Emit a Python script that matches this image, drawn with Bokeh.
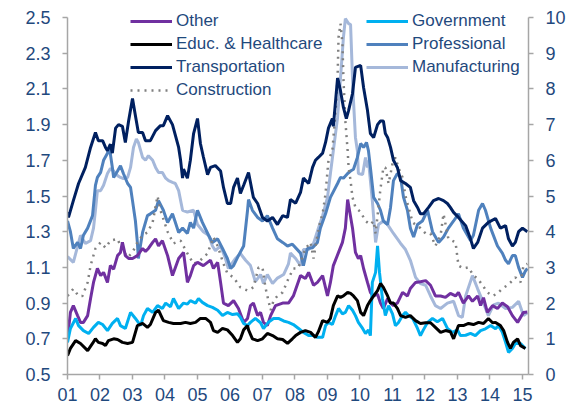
from bokeh.plotting import figure
from bokeh.models import Range1d, LinearAxis, FixedTicker, Legend, LegendItem, PrintfTickFormatter
from bokeh.embed import file_html
from bokeh.resources import INLINE

# ---------------- data (right-axis units, 0-10) ----------------
transport_t = [2001.00,2001.03,2001.18,2001.34,2001.55,2001.71,2001.86,2001.95,2002.08,2002.17,2002.23,2002.32,2002.38,2002.48,2002.57,2002.69,2002.78,2002.88,2003.00,2003.09,2003.18,2003.31,2003.40,2003.55,2003.71,2003.86,2003.95,2004.08,2004.23,2004.32,2004.42,2004.48,2004.54,2004.57,2004.69,2004.78,2004.88,2005.00,2005.09,2005.18,2005.31,2005.40,2005.55,2005.71,2005.80,2005.92,2006.02,2006.11,2006.23,2006.32,2006.42,2006.57,2006.72,2006.85,2007.00,2007.15,2007.31,2007.46,2007.62,2007.77,2007.86,2008.02,2008.17,2008.26,2008.42,2008.54,2008.63,2008.72,2008.85,2008.94,2009.03,2009.15,2009.18,2009.31,2009.34,2009.40,2009.49,2009.58,2009.65,2009.77,2009.86,2010.02,2010.11,2010.23,2010.32,2010.42,2010.54,2010.63,2010.72,2010.78,2010.85,2010.94,2011.03,2011.15,2011.25,2011.40,2011.55,2011.65,2011.77,2011.86,2011.95,2012.11,2012.26,2012.42,2012.57,2012.69,2012.78,2012.88,2013.03,2013.25,2013.40,2013.49,2013.62,2013.77,2013.95,2014.17,2014.32,2014.48,2014.57,2014.69,2014.78,2014.88,2015.00,2015.15]
transport_v = [4.55,4.4,4.87,5.35,5.8,6.36,6.78,6.55,6.55,6.36,6.27,6.45,6.2,6.9,7.0,6.95,6.5,7.1,7.73,7.25,6.78,6.78,6.55,6.55,6.83,6.97,6.97,7.25,7.0,6.7,6.36,6.0,5.5,5.75,5.5,6.0,6.75,7.17,6.47,6.1,5.6,5.8,5.85,5.7,5.24,4.79,4.79,5.24,5.5,5.07,5.3,5.66,4.96,4.79,4.4,4.3,4.4,4.2,4.45,4.4,4.9,4.8,5.1,5.5,5.35,5.8,6.0,6.08,6.2,6.5,6.9,7.17,6.95,8.3,8.2,7.95,7.48,7.17,7.4,7.87,8.6,8.66,8.04,7.4,6.75,6.64,7.0,7.1,7.1,6.75,6.64,6.36,6.0,5.8,5.43,5.35,5.24,4.87,4.68,4.5,4.5,4.68,4.87,4.93,4.87,4.79,4.68,4.54,4.4,4.17,3.8,3.53,3.7,4.1,4.26,4.37,4.1,4.17,3.8,3.6,3.7,4.0,4.1,4.0]

manuf_t = [2001.00,2001.18,2001.40,2001.55,2001.71,2001.80,2001.86,2001.92,2002.02,2002.11,2002.23,2002.32,2002.42,2002.54,2002.63,2002.72,2002.85,2002.94,2003.03,2003.12,2003.18,2003.31,2003.40,2003.49,2003.62,2003.71,2003.80,2003.92,2004.02,2004.11,2004.23,2004.32,2004.42,2004.54,2004.69,2004.88,2005.00,2005.18,2005.34,2005.46,2005.55,2005.71,2005.86,2005.95,2006.17,2006.32,2006.48,2006.63,2006.78,2006.94,2007.03,2007.15,2007.31,2007.46,2007.65,2007.80,2007.86,2008.02,2008.17,2008.26,2008.42,2008.57,2008.72,2008.85,2009.00,2009.09,2009.18,2009.31,2009.40,2009.49,2009.55,2009.65,2009.71,2009.77,2009.80,2009.86,2009.92,2009.95,2010.08,2010.17,2010.23,2010.26,2010.32,2010.38,2010.48,2010.57,2010.72,2010.85,2011.03,2011.25,2011.40,2011.55,2011.71,2011.86,2012.02,2012.17,2012.32,2012.48,2012.69,2012.88,2013.03,2013.15,2013.25,2013.46,2013.62,2013.80,2013.95,2014.11,2014.26,2014.48,2014.69,2014.88,2015.03,2015.15]
manuf_v = [3.3,3.14,3.9,3.67,3.75,4.1,4.6,5.15,5.15,5.3,5.63,5.77,5.7,5.57,5.52,5.49,5.52,5.8,6.36,6.6,6.5,6.08,6.0,6.13,6.0,5.8,5.66,5.66,5.5,5.43,5.38,5.35,5.15,4.6,4.55,4.6,4.2,4.0,3.9,3.6,3.47,3.6,3.25,2.97,3.25,3.39,3.2,3.05,2.6,2.8,2.55,2.8,2.55,2.7,2.8,3.1,3.4,3.25,3.05,3.5,3.5,3.67,4.1,4.45,4.96,5.63,6.27,7.2,8.3,9.44,9.97,9.83,9.8,8.3,7.67,6.64,6.27,5.63,5.6,6.08,5.8,6.0,5.43,4.87,3.7,4.2,4.3,4.2,3.95,3.67,3.5,3.2,2.72,2.55,2.5,2.2,1.93,1.85,2.0,2.05,1.65,1.6,2.2,2.77,2.4,2.0,1.65,1.95,2.0,1.85,1.88,2.05,1.65,1.73]

prof_t = [2001.00,2001.09,2001.18,2001.31,2001.40,2001.49,2001.62,2001.77,2001.86,2001.92,2002.02,2002.11,2002.23,2002.29,2002.38,2002.42,2002.54,2002.63,2002.72,2002.85,2002.94,2003.00,2003.09,2003.15,2003.18,2003.31,2003.46,2003.55,2003.71,2003.80,2003.95,2004.08,2004.23,2004.32,2004.42,2004.54,2004.69,2004.78,2004.88,2005.00,2005.15,2005.34,2005.46,2005.62,2005.77,2005.92,2006.02,2006.11,2006.26,2006.42,2006.54,2006.57,2006.69,2006.85,2007.00,2007.15,2007.31,2007.46,2007.62,2007.77,2007.92,2008.17,2008.26,2008.38,2008.54,2008.69,2008.78,2008.94,2009.09,2009.31,2009.40,2009.49,2009.62,2009.71,2009.80,2009.92,2010.02,2010.11,2010.20,2010.26,2010.32,2010.42,2010.54,2010.63,2010.72,2010.85,2010.94,2011.03,2011.15,2011.25,2011.34,2011.46,2011.55,2011.65,2011.77,2011.92,2012.08,2012.23,2012.42,2012.57,2012.72,2012.88,2013.03,2013.18,2013.40,2013.49,2013.65,2013.77,2013.86,2014.02,2014.23,2014.38,2014.48,2014.57,2014.69,2014.78,2014.88,2015.00,2015.09,2015.15]
prof_v = [4.3,4.0,3.53,3.7,3.53,3.9,4.1,4.45,5.3,5.52,5.66,6.0,6.2,6.36,5.8,5.52,5.7,5.85,5.63,5.35,5.24,4.87,4.3,3.7,3.25,3.98,4.45,4.5,4.6,4.87,4.6,4.26,4.5,4.26,3.98,4.1,3.95,4.26,4.1,4.6,4.26,3.9,3.7,3.8,3.53,3.25,2.97,3.05,3.33,3.6,4.6,4.9,4.6,4.4,4.3,4.45,4.1,3.8,3.7,3.6,3.65,3.4,3.05,3.53,3.55,3.7,4.1,4.5,4.96,5.35,5.52,5.5,5.63,5.7,5.75,6.08,6.47,6.36,6.5,6.27,5.8,4.96,4.79,4.6,4.3,4.2,4.68,5.43,5.63,5.52,4.96,4.6,4.1,3.85,4.2,4.3,4.6,4.0,3.7,3.85,4.1,4.3,4.5,4.1,3.75,3.9,4.6,4.79,4.6,4.1,3.6,3.4,3.2,3.1,3.33,3.33,3.0,2.72,2.9,2.97]

constr_t = [2001.00,2001.18,2001.34,2001.46,2001.62,2001.71,2001.86,2002.02,2002.17,2002.32,2002.54,2002.63,2002.85,2003.00,2003.15,2003.31,2003.46,2003.62,2003.77,2003.86,2004.08,2004.26,2004.48,2004.69,2004.88,2005.09,2005.31,2005.49,2005.62,2005.80,2005.92,2006.11,2006.32,2006.54,2006.72,2006.88,2007.00,2007.09,2007.25,2007.34,2007.46,2007.62,2007.80,2007.95,2008.08,2008.17,2008.32,2008.48,2008.57,2008.69,2008.78,2008.85,2008.94,2009.03,2009.15,2009.25,2009.31,2009.34,2009.40,2009.46,2009.49,2009.55,2009.62,2009.65,2009.71,2009.77,2009.86,2010.02,2010.17,2010.32,2010.42,2010.48,2010.63,2010.72,2010.78,2010.88,2011.00,2011.09,2011.18,2011.31,2011.40,2011.62,2011.86,2012.02,2012.17,2012.32,2012.48,2012.57,2012.72,2012.94,2013.03,2013.18,2013.34,2013.49,2013.62,2013.77,2013.92,2014.08,2014.23,2014.38,2014.54,2014.69,2014.78,2014.94,2015.03,2015.15]
constr_v = [2.2,2.4,2.2,2.2,2.58,3.05,3.53,3.7,3.55,3.75,3.8,3.6,3.28,3.42,3.7,3.9,3.98,4.26,5.0,4.6,4.0,3.67,3.75,3.39,3.1,3.2,3.39,3.85,3.6,3.1,2.83,2.72,2.44,2.35,2.44,3.0,3.0,2.44,1.8,2.07,2.2,2.3,2.69,2.97,2.97,3.14,3.53,3.7,3.25,3.9,4.3,4.5,5.07,6.0,6.27,7.4,8.3,9.44,9.83,9.27,8.3,7.1,6.27,5.8,5.43,4.96,4.68,4.55,4.3,4.2,4.3,3.95,5.2,5.8,5.8,5.35,5.9,6.08,5.8,5.52,5.0,4.26,4.1,3.95,3.95,3.6,3.9,4.5,3.8,3.7,3.05,2.97,3.0,2.77,2.69,2.5,2.3,2.2,2.27,2.41,2.5,2.63,2.72,2.58,3.05,3.1]

other_t = [2001.00,2001.09,2001.18,2001.31,2001.40,2001.49,2001.62,2001.71,2001.80,2001.92,2002.02,2002.11,2002.23,2002.32,2002.42,2002.54,2002.63,2002.69,2002.78,2002.88,2003.00,2003.15,2003.31,2003.40,2003.49,2003.62,2003.71,2003.80,2003.92,2004.08,2004.23,2004.32,2004.42,2004.57,2004.69,2004.78,2004.88,2005.00,2005.18,2005.31,2005.40,2005.49,2005.62,2005.71,2005.80,2005.95,2006.11,2006.26,2006.42,2006.54,2006.63,2006.72,2006.85,2006.94,2007.03,2007.15,2007.25,2007.40,2007.62,2007.80,2007.95,2008.17,2008.32,2008.42,2008.57,2008.69,2008.85,2009.00,2009.09,2009.18,2009.34,2009.46,2009.55,2009.62,2009.77,2009.86,2009.95,2010.02,2010.11,2010.23,2010.32,2010.42,2010.54,2010.63,2010.72,2010.85,2010.94,2011.03,2011.15,2011.31,2011.46,2011.55,2011.71,2011.86,2012.02,2012.17,2012.32,2012.48,2012.63,2012.78,2012.94,2013.03,2013.18,2013.34,2013.46,2013.62,2013.71,2013.80,2013.92,2014.08,2014.23,2014.38,2014.54,2014.69,2014.85,2014.94,2015.03,2015.15]
other_v = [1.0,1.74,1.93,1.65,1.46,1.46,1.65,2.13,2.58,2.97,2.77,2.86,2.58,3.05,2.95,3.33,3.42,3.7,3.33,3.25,3.25,3.33,3.53,3.45,3.53,3.7,3.8,3.6,3.75,3.33,2.77,3.0,3.25,3.42,2.58,2.77,3.05,3.14,3.05,3.14,3.2,2.97,3.14,2.58,2.0,1.93,2.07,1.85,1.46,1.57,1.93,2.0,1.65,1.74,1.46,1.37,1.65,1.93,2.0,2.0,2.2,2.77,2.69,2.86,2.5,2.58,2.77,2.2,2.58,3.05,3.42,3.7,4.1,4.9,4.1,3.42,3.25,3.33,2.97,2.58,2.3,2.2,2.25,2.0,1.85,2.13,2.0,1.93,2.0,2.3,2.2,2.41,2.58,2.6,2.63,2.5,2.2,2.2,2.16,2.27,2.2,2.3,2.0,2.2,2.05,2.2,1.93,2.15,1.74,1.93,1.85,2.0,1.9,1.65,1.46,1.6,1.74,1.75]

gov_t = [2001.00,2001.09,2001.25,2001.34,2001.49,2001.65,2001.80,2001.95,2002.08,2002.23,2002.38,2002.54,2002.63,2002.78,2002.94,2003.09,2003.25,2003.34,2003.46,2003.62,2003.77,2003.92,2004.02,2004.17,2004.26,2004.42,2004.57,2004.69,2004.78,2004.94,2005.03,2005.15,2005.31,2005.46,2005.62,2005.77,2005.92,2006.08,2006.23,2006.32,2006.42,2006.54,2006.63,2006.78,2006.94,2007.03,2007.18,2007.34,2007.49,2007.65,2007.80,2007.95,2008.11,2008.26,2008.42,2008.57,2008.69,2008.85,2008.94,2009.03,2009.15,2009.25,2009.34,2009.46,2009.55,2009.65,2009.77,2009.86,2009.95,2010.08,2010.17,2010.26,2010.32,2010.38,2010.48,2010.54,2010.60,2010.69,2010.78,2010.88,2011.00,2011.09,2011.18,2011.31,2011.40,2011.49,2011.62,2011.77,2011.86,2011.95,2012.08,2012.23,2012.38,2012.54,2012.69,2012.85,2013.00,2013.09,2013.25,2013.40,2013.55,2013.71,2013.86,2014.02,2014.17,2014.26,2014.38,2014.48,2014.57,2014.69,2014.78,2014.94,2015.09]
gov_v = [0.9,1.29,1.57,1.37,1.23,1.15,1.32,1.46,1.4,1.23,1.43,1.57,1.37,1.29,1.74,1.57,1.37,1.65,1.85,1.74,1.93,1.85,2.0,1.9,2.13,1.85,2.0,1.97,2.07,2.0,2.13,2.02,1.93,1.88,1.8,1.65,1.74,1.68,1.7,1.6,1.43,1.37,1.46,1.57,1.45,1.29,1.46,1.57,1.57,1.5,1.46,1.4,1.29,1.18,1.09,1.09,1.04,1.04,1.37,1.46,1.4,1.65,1.85,1.7,1.74,1.93,1.8,1.65,1.46,1.29,1.15,1.25,1.09,2.58,2.86,3.6,2.86,2.13,1.65,1.93,1.7,1.37,1.45,1.65,1.74,1.65,1.57,1.29,1.09,1.25,1.46,1.57,1.48,1.57,1.29,1.18,1.25,1.09,1.1,1.15,1.09,1.23,1.28,1.37,1.28,1.37,1.18,0.9,0.62,0.73,0.87,0.87,0.73]

educ_t = [2001.00,2001.09,2001.25,2001.40,2001.62,2001.77,2001.86,2001.95,2002.08,2002.17,2002.26,2002.42,2002.54,2002.69,2002.85,2003.00,2003.15,2003.31,2003.46,2003.55,2003.71,2003.80,2003.95,2004.11,2004.26,2004.48,2004.63,2004.78,2004.94,2005.09,2005.25,2005.40,2005.49,2005.62,2005.77,2005.92,2006.08,2006.23,2006.32,2006.42,2006.54,2006.57,2006.69,2006.85,2007.00,2007.15,2007.31,2007.46,2007.62,2007.77,2007.92,2008.02,2008.17,2008.32,2008.48,2008.63,2008.72,2008.85,2009.00,2009.09,2009.18,2009.31,2009.40,2009.49,2009.62,2009.71,2009.80,2009.92,2010.02,2010.11,2010.23,2010.32,2010.42,2010.54,2010.63,2010.72,2010.85,2010.94,2011.03,2011.15,2011.25,2011.40,2011.55,2011.71,2011.86,2012.02,2012.17,2012.32,2012.48,2012.63,2012.78,2012.88,2013.03,2013.18,2013.34,2013.49,2013.65,2013.80,2013.95,2014.08,2014.17,2014.32,2014.42,2014.54,2014.63,2014.72,2014.85,2014.94,2015.09]
educ_v = [0.53,0.73,0.95,0.87,0.67,0.87,1.0,0.9,0.87,0.81,0.95,1.0,0.98,0.9,0.87,0.9,1.37,1.43,1.32,1.4,1.74,1.8,1.51,1.46,1.43,1.43,1.46,1.43,1.46,1.57,1.57,1.46,1.23,1.18,1.29,1.25,1.09,0.9,1.0,1.25,1.37,1.25,1.0,0.95,1.0,1.15,1.09,1.0,0.98,0.87,1.0,1.09,1.18,1.23,1.18,1.04,1.2,1.51,1.46,1.57,1.93,2.2,2.16,2.2,2.3,2.27,2.2,2.07,1.74,1.65,1.93,2.07,2.2,2.35,2.55,2.44,2.2,2.0,2.0,1.85,1.65,1.6,1.65,1.51,1.43,1.45,1.45,1.32,1.18,1.23,1.2,1.0,1.37,1.37,1.43,1.4,1.46,1.43,1.57,1.45,1.46,1.37,1.23,0.9,0.73,0.9,1.0,0.81,0.73]

year_ticks = list(range(2001, 2016))
year_labels = ["01", "02", "03", "04", "05", "06", "07", "08", "09", "10", "11", "12", "13", "14", "15"]
left_ticks = [0.5, 0.7, 0.9, 1.1, 1.3, 1.5, 1.7, 1.9, 2.1, 2.3, 2.5]
right_ticks = [0, 1, 2, 3, 4, 5, 6, 7, 8, 9, 10]

# ---------------- figure ----------------
FONT = "Liberation Sans"
TXT = "#1F497D"
AX = "#A6A6A6"

# frame spans pixel rows 8..374; the axes (0..10 / 0.5..2.5) occupy 17..374
TOP_PAD = 9.0 / 357.0
p = figure(width=580, height=408, x_range=Range1d(2001.0, 2015.185),
           y_range=Range1d(0, 10 * (1 + TOP_PAD)),
           output_backend="svg", toolbar_location=None, y_axis_location="right",
           min_border_left=67, min_border_right=52, min_border_top=8, min_border_bottom=34)
p.extra_y_ranges = {"left": Range1d(0.5, 0.5 + 2.0 * (1 + TOP_PAD))}
left_axis = LinearAxis(y_range_name="left", ticker=FixedTicker(ticks=left_ticks),
                       formatter=PrintfTickFormatter(format="%.1f"), bounds=(0.5, 2.5))
p.add_layout(left_axis, "left")

p.grid.visible = False
p.outline_line_color = None
p.background_fill_color = "white"
p.border_fill_color = "white"

p.xaxis.ticker = FixedTicker(ticks=year_ticks)
p.xaxis.major_label_overrides = {y: l for y, l in zip(year_ticks, year_labels)}
for ax in p.yaxis:
    if ax is not left_axis:
        ax.ticker = FixedTicker(ticks=right_ticks)
        ax.bounds = (0, 10)

for ax in list(p.xaxis) + list(p.yaxis):
    ax.axis_line_color = AX
    ax.axis_line_width = 1.5
    ax.major_tick_line_color = AX
    ax.major_tick_line_width = 1.5
    ax.major_tick_out = 5
    ax.major_tick_in = 0
    ax.minor_tick_line_color = None
    ax.major_label_text_font = FONT
    ax.major_label_text_font_size = "18px"
    ax.major_label_text_color = TXT
    ax.major_label_standoff = 12
p.xaxis.major_label_standoff = 8

W = 3
r_manuf = p.line(manuf_t, manuf_v, line_color="#A5B8DA", line_width=W)
r_prof = p.line(prof_t, prof_v, line_color="#4F81BD", line_width=W)
r_constr = p.line(constr_t, constr_v, line_color="#808080", line_width=2.5, line_dash="2 5")
r_trans = p.line(transport_t, transport_v, line_color="#002060", line_width=W)
r_other = p.line(other_t, other_v, line_color="#7030A0", line_width=W)
r_gov = p.line(gov_t, gov_v, line_color="#00B0F0", line_width=W)
r_educ = p.line(educ_t, educ_v, line_color="#000000", line_width=W)

def make_legend(items, loc):
    return Legend(items=items, location=loc, orientation="vertical",
                  glyph_width=42, glyph_height=22, label_height=22, spacing=1,
                  padding=0, margin=0, label_standoff=4,
                  border_line_color=None, background_fill_alpha=0,
                  label_text_font=FONT, label_text_font_size="17px", label_text_color=TXT)

leg1 = make_legend([LegendItem(label="Other", renderers=[r_other]),
                    LegendItem(label="Educ. & Healthcare", renderers=[r_educ]),
                    LegendItem(label="Transportation", renderers=[r_trans]),
                    LegendItem(label="Construction", renderers=[r_constr])], (63, 273))
leg2 = make_legend([LegendItem(label="Government", renderers=[r_gov]),
                    LegendItem(label="Professional", renderers=[r_prof]),
                    LegendItem(label="Manufacturing", renderers=[r_manuf])], (299, 296))
p.add_layout(leg1)
p.add_layout(leg2)

open("out.html", "w").write(file_html(p, INLINE))
